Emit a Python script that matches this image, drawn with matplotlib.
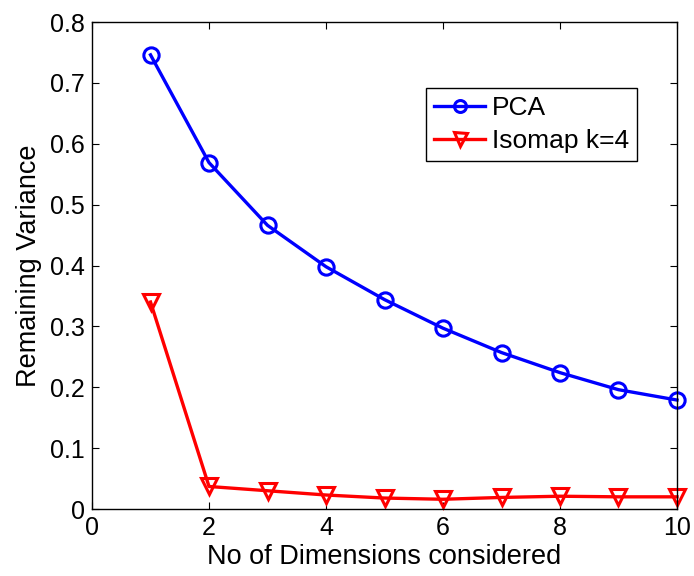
import matplotlib
matplotlib.use("Agg")
import matplotlib.pyplot as plt

plt.rcParams['font.family'] = ['Liberation Sans', 'DejaVu Sans']

dims = [1, 2, 3, 4, 5, 6, 7, 8, 9, 10]
pca_var = [0.746, 0.569, 0.466, 0.398, 0.344, 0.297, 0.257, 0.224, 0.196, 0.179]
isomap_var = [0.340, 0.037, 0.030, 0.023, 0.018, 0.016, 0.019, 0.021, 0.020, 0.020]

xticks = [0, 2, 4, 6, 8, 10]
yticks = [0, 0.1, 0.2, 0.3, 0.4, 0.5, 0.6, 0.7, 0.8]
yticklabels = ['0', '0.1', '0.2', '0.3', '0.4', '0.5', '0.6', '0.7', '0.8']

fig = plt.figure(figsize=(6.94, 5.76), dpi=100)
ax = fig.add_axes([0.1326, 0.1163, 0.8429, 0.8455])

ax.plot(dims, pca_var, color='#0000ff', lw=2.4, marker='o', ms=11,
        mfc='none', mec='#0000ff', mew=2.2, label='PCA', clip_on=False)
ax.plot(dims, isomap_var, color='#ff0000', lw=2.4, marker='v', ms=12,
        mfc='none', mec='#ff0000', mew=2.2, label='Isomap k=4', clip_on=False)

ax.set_xlim(0, 10)
ax.set_ylim(0, 0.8)
ax.set_xticks(xticks)
ax.set_yticks(yticks)
ax.set_yticklabels(yticklabels)
ax.tick_params(direction='in', top=True, right=True, labelsize=18, length=5, width=0.8, pad=5)
for s in ax.spines.values():
    s.set_linewidth(1.0)

ax.set_xlabel('No of Dimensions considered', fontsize=19.5, labelpad=3)
ax.set_ylabel('Remaining Variance', fontsize=19.5, labelpad=6)

leg = ax.legend(loc='upper right', bbox_to_anchor=(0.9316, 0.8645), borderaxespad=0,
                fontsize=19, frameon=True, fancybox=False, edgecolor='black', framealpha=1,
                handlelength=1.95, handletextpad=0.25, borderpad=0.3, labelspacing=0.35,
                markerscale=0.78)
leg.get_frame().set_linewidth(1.0)

fig.savefig('out.png', dpi=100)
